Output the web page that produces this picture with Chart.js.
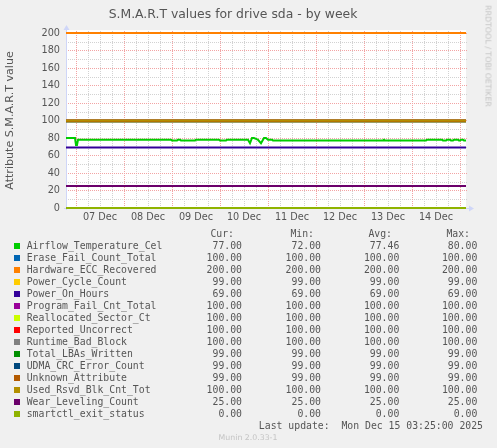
<!DOCTYPE html>
<html>
<head>
<meta charset="utf-8">
<script src="https://cdn.jsdelivr.net/npm/chart.js@4.4.1/dist/chart.umd.min.js"></script>
<style>
html,body{margin:0;padding:0;background:#F0F0F0;}
#page{position:relative;width:497px;height:448px;overflow:hidden;background:#F0F0F0;}
#wrap{position:absolute;left:0;top:0;width:497px;height:230px;}
.mono{position:absolute;font-family:"DejaVu Sans Mono",monospace;font-size:9.8px;line-height:12px;color:#555;white-space:pre;}
.box{position:absolute;width:6px;height:6px;}
#wm{position:absolute;left:488px;top:56px;transform:translate(-50%,-50%) rotate(90deg);font-family:"DejaVu Sans",sans-serif;font-size:7.9px;color:#c4c4c4;white-space:nowrap;line-height:9px;}
#munin{position:absolute;left:248px;top:437px;transform:translate(-50%,-50%);font-family:"DejaVu Sans",sans-serif;font-size:7.8px;color:#c4c4c4;white-space:nowrap;line-height:9px;}
</style>
</head>
<body>
<div id="page">
  <div id="wrap"><canvas id="c"></canvas></div>
  <div id="wm">RRDTOOL / TOBI OETIKER</div>
  <div id="legend"></div>
  <div id="munin">Munin 2.0.33-1</div>
</div>
<script>
// ---- data ----
const chartTitle = 'S.M.A.R.T values for drive sda - by week';
const yAxisTitle = 'Attribute S.M.A.R.T value';
const dayLabels = ['07 Dec', '08 Dec', '09 Dec', '10 Dec', '11 Dec', '12 Dec', '13 Dec', '14 Dec'];
// hours relative to 07 Dec 00:00
const timeRange = [-5, 195];

const seriesNames = [
  'Airflow_Temperature_Cel', 'Erase_Fail_Count_Total', 'Hardware_ECC_Recovered',
  'Power_Cycle_Count', 'Power_On_Hours', 'Program_Fail_Cnt_Total',
  'Reallocated_Sector_Ct', 'Reported_Uncorrect', 'Runtime_Bad_Block',
  'Total_LBAs_Written', 'UDMA_CRC_Error_Count', 'Unknown_Attribute',
  'Used_Rsvd_Blk_Cnt_Tot', 'Wear_Leveling_Count', 'smartctl_exit_status'
];
const seriesColors = [
  '#00CC00', '#0066B3', '#FF8000', '#FFCC00', '#330099', '#990099', '#CCFF00', '#FF0000',
  '#808080', '#008F00', '#00487D', '#B35A00', '#B38F00', '#6B006B', '#8FB300'
];
const curValues = [77, 100, 200, 99, 69, 100, 100, 100, 100, 99, 99, 99, 100, 25, 0];
const minValues = [72, 100, 200, 99, 69, 100, 100, 100, 100, 99, 99, 99, 100, 25, 0];
const avgValues = [77.46, 100, 200, 99, 69, 100, 100, 100, 100, 99, 99, 99, 100, 25, 0];
const maxValues = [80, 100, 200, 99, 69, 100, 100, 100, 100, 99, 99, 99, 100, 25, 0];
// flat series level over the whole week (null = has its own time series)
const flatValues = [null, 100, 200, 99, 69, 100, 100, 100, 100, 99, 99, 99, 100, 25, 0];

// Airflow_Temperature_Cel time series
const tempHours = [-5, -0.5, 0, 0.5, 1, 47.5, 48, 50.5, 51, 52, 52.5, 59.5, 60, 71.5, 72, 75, 75.5,
  86, 87, 88, 89, 90, 91, 92.5, 94, 95, 96, 98, 98.5, 153.5, 154, 154.5, 175, 175.5, 183, 183.5,
  185, 185.5, 187, 187.5, 188.5, 189, 191, 191.5, 192, 192.5, 193.5, 194, 195];
const tempValues = [80, 80, 72, 72, 78, 78, 77, 77, 78, 78, 77, 77, 78, 78, 77, 77, 78,
  78, 74, 80, 80, 79, 78, 74, 80, 80, 78, 78, 77, 77, 78, 77, 77, 78, 78, 77,
  77, 78, 78, 77, 77, 78, 78, 77, 77, 78, 78, 77, 77];

const lastUpdate = 'Last update:  Mon Dec 15 03:25:00 2025';

// ---- datasets ----
const N = seriesNames.length;
const datasets = seriesNames.map((name, i) => {
  const data = flatValues[i] === null
    ? tempHours.map((h, k) => ({x: h, y: tempValues[k]}))
    : timeRange.map(h => ({x: h, y: flatValues[i]}));
  return {
    label: name, data, borderColor: seriesColors[i], backgroundColor: seriesColors[i],
    borderWidth: 2, pointRadius: 0, tension: 0, fill: false, clip: 3, order: N - i
  };
});

// ---- rrdtool-like canvas, grid and axes ----
const rrdGrid = {
  id: 'rrdGrid',
  beforeDatasetsDraw(chart) {
    const {ctx, chartArea: a, scales: {x, y}} = chart;
    ctx.save();
    ctx.fillStyle = '#FFFFFF';
    ctx.fillRect(a.left, a.top - 3, a.right - a.left, a.bottom - a.top + 3);
    ctx.lineWidth = 1;
    ctx.setLineDash([1, 1]);
    const minor = '#d2d2d2';
    const major = '#f2a4a4';
    const drawPass = (isMajor) => {
      ctx.strokeStyle = isMajor ? major : minor;
      for (let h = Math.ceil(x.min / 6) * 6; h <= x.max; h += 6) {
        if ((h % 24 === 0) !== isMajor) continue;
        const px = Math.round(x.getPixelForValue(h)) + 0.5;
        ctx.beginPath(); ctx.moveTo(px, a.bottom); ctx.lineTo(px, a.top - 2); ctx.stroke();
      }
      for (let v = 10; v <= y.max; v += 10) {
        if ((v % 20 === 0) !== isMajor) continue;
        const py = Math.round(y.getPixelForValue(v)) + 0.5;
        ctx.beginPath(); ctx.moveTo(a.left, py); ctx.lineTo(a.right + 2, py); ctx.stroke();
      }
    };
    drawPass(false);
    drawPass(true);
    ctx.setLineDash([]);
    ctx.strokeStyle = '#CFD6F8';
    ctx.fillStyle = '#CFD6F8';
    const bx = Math.round(a.left) + 0.5, by = Math.round(a.bottom) + 0.5;
    ctx.beginPath(); ctx.moveTo(bx, a.bottom + 2); ctx.lineTo(bx, a.top - 3); ctx.stroke();
    ctx.beginPath(); ctx.moveTo(a.left - 2, by); ctx.lineTo(a.right + 3, by); ctx.stroke();
    ctx.beginPath(); ctx.moveTo(bx - 3, a.top - 3); ctx.lineTo(bx + 3, a.top - 3); ctx.lineTo(bx, a.top - 8); ctx.closePath(); ctx.fill();
    ctx.beginPath(); ctx.moveTo(a.right + 3, by - 3); ctx.lineTo(a.right + 3, by + 3); ctx.lineTo(a.right + 8, by); ctx.closePath(); ctx.fill();
    ctx.restore();
  }
};

new Chart(document.getElementById('c'), {
  type: 'line',
  data: {datasets},
  plugins: [rrdGrid],
  options: {
    responsive: true, maintainAspectRatio: false, animation: false,
    layout: {padding: {left: 0, right: 31, top: 0, bottom: 0}},
    plugins: {
      legend: {display: false}, tooltip: {enabled: false},
      title: {display: true, text: chartTitle, color: '#555',
        font: {family: 'DejaVu Sans', size: 12.4, weight: 'normal', lineHeight: 1.2},
        padding: {top: 7, bottom: 11.1}}
    },
    scales: {
      x: {
        type: 'linear', min: timeRange[0], max: timeRange[1],
        grid: {display: false, drawTicks: false}, border: {display: false},
        afterBuildTicks(scale) { scale.ticks = dayLabels.map((_, i) => ({value: 12 + 24 * i})); },
        afterFit(scale) { scale.height = 22; },
        ticks: {autoSkip: false, maxRotation: 0, padding: 4, color: '#555',
          font: {family: 'DejaVu Sans', size: 9.7},
          callback: (v) => dayLabels[(v - 12) / 24]}
      },
      y: {
        min: 0, max: 200,
        grid: {display: false, drawTicks: false}, border: {display: false},
        afterFit(scale) { scale.width = 66; },
        ticks: {stepSize: 20, padding: 6, color: '#555', font: {family: 'DejaVu Sans', size: 9.7}},
        title: {display: true, text: yAxisTitle, color: '#555',
          font: {family: 'DejaVu Sans', size: 11.1, lineHeight: 1.2}, padding: {top: 3.3, bottom: 0}}
      }
    }
  }
});

// ---- legend table (real text) ----
const legend = document.getElementById('legend');
function addText(txt, cls, css) {
  const d = document.createElement('div');
  d.className = cls; d.textContent = txt;
  Object.assign(d.style, css);
  legend.appendChild(d);
}
const colRight = [242, 321, 399.3, 477.3];
const headRight = [234, 314, 392, 470];
const heads = ['Cur:', 'Min:', 'Avg:', 'Max:'];
heads.forEach((h, j) => addText(h, 'mono', {top: '228px', right: (497 - headRight[j]) + 'px'}));
const cols = [curValues, minValues, avgValues, maxValues];
seriesNames.forEach((name, i) => {
  const cy = 245.7 + 12 * i;
  const b = document.createElement('div');
  b.className = 'box';
  Object.assign(b.style, {left: '14px', top: (cy - 3) + 'px', background: seriesColors[i]});
  legend.appendChild(b);
  addText(name, 'mono', {left: '26.7px', top: (cy - 6) + 'px'});
  cols.forEach((arr, j) => addText(arr[i].toFixed(2), 'mono', {top: (cy - 6) + 'px', right: (497 - colRight[j]) + 'px'}));
});
addText(lastUpdate, 'mono', {top: '419.7px', right: (497 - 483) + 'px'});
</script>
</body>
</html>
